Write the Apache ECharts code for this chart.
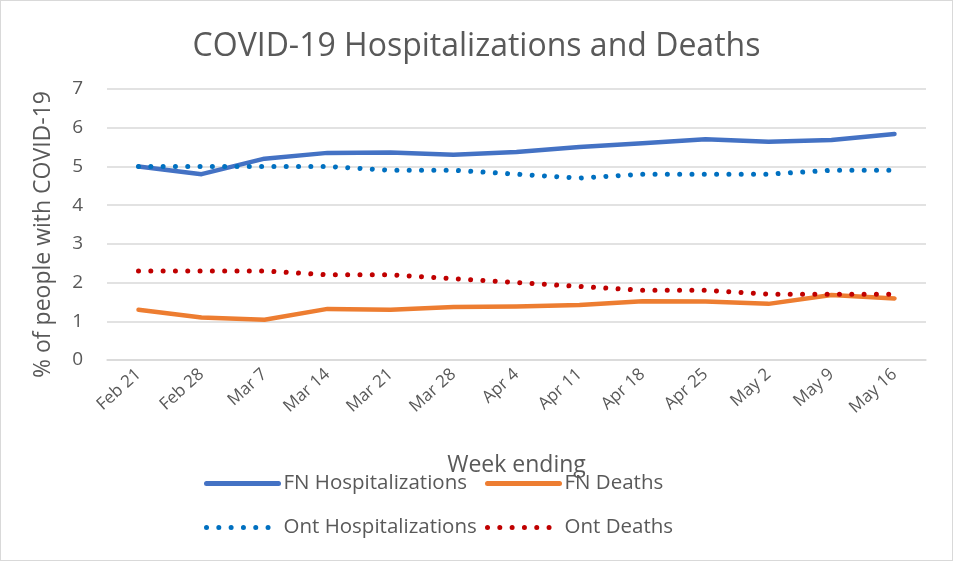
<!DOCTYPE html>
<html>
<head>
<meta charset="utf-8">
<script src="https://cdn.jsdelivr.net/npm/echarts@6/dist/echarts.min.js"></script>
<style>
html, body { margin: 0; padding: 0; background: #fff; }
#chart { box-sizing: border-box; width: 953px; height: 561px; border: 1px solid #d9d9d9; }
</style>
</head>
<body>
<div id="chart"></div>
<script>
var weeks = ['Feb 21', 'Feb 28', 'Mar 7', 'Mar 14', 'Mar 21', 'Mar 28', 'Apr 4', 'Apr 11', 'Apr 18', 'Apr 25', 'May 2', 'May 9', 'May 16'];
var fnHosp = [5.0, 4.8, 5.2, 5.35, 5.36, 5.3, 5.37, 5.5, 5.6, 5.7, 5.64, 5.68, 5.84];
var fnDeaths = [1.3, 1.1, 1.04, 1.32, 1.3, 1.37, 1.38, 1.42, 1.52, 1.51, 1.45, 1.68, 1.59];
var ontHosp = [5.0, 5.0, 5.0, 5.0, 4.9, 4.9, 4.8, 4.7, 4.8, 4.8, 4.8, 4.9, 4.9];
var ontDeaths = [2.3, 2.3, 2.3, 2.2, 2.2, 2.1, 2.0, 1.9, 1.8, 1.8, 1.7, 1.7, 1.7];
var yTicks = [0, 1, 2, 3, 4, 5, 6, 7];

var font = '"Open Sans", "Noto Sans", sans-serif';
var grey = '#595959';

function solid(name, data, color) {
    return {
        name: name, type: 'line', data: data, symbol: 'none',
        lineStyle: { color: color, width: 4.5, cap: 'round', join: 'round' },
        itemStyle: { color: color }
    };
}
function dotted(name, data, color) {
    return {
        name: name, type: 'line', data: data, symbol: 'none',
        lineStyle: { color: color, width: 5, type: [0.01, 12.3], cap: 'round' },
        itemStyle: { color: color }
    };
}
function legendAt(name, left, top, dots) {
    return {
        data: [name], left: left, top: top, itemWidth: 72, itemHeight: 14, itemGap: 5,
        itemStyle: { opacity: 0 },
        lineStyle: dots ? { width: 5, type: [0.01, 12.3], cap: 'round' } : { width: 5, cap: 'round' },
        textStyle: { fontFamily: font, fontSize: 20.5, color: grey }
    };
}

var myChart = echarts.init(document.getElementById('chart'));
var option = {
    animation: false,
    title: {
        text: 'COVID-19 Hospitalizations and Deaths',
        left: 'center', top: 25,
        textStyle: { fontFamily: font, fontSize: 32, fontWeight: 'normal', color: grey }
    },
    legend: [
        legendAt('FN Hospitalizations', 198, 467, false),
        legendAt('FN Deaths', 479, 467, false),
        legendAt('Ont Hospitalizations', 198, 511, true),
        legendAt('Ont Deaths', 479, 511, true)
    ],
    grid: { left: 106, right: 26, top: 88, bottom: 200 },
    xAxis: {
        type: 'category', data: weeks, boundaryGap: true,
        name: 'Week ending', nameLocation: 'middle', nameGap: 94,
        nameTextStyle: { fontFamily: font, fontSize: 23, color: grey },
        axisLine: { lineStyle: { color: '#d9d9d9', width: 1.5 } },
        axisTick: { show: false },
        axisLabel: { rotate: 42, margin: 12, interval: 0, fontFamily: font, fontSize: 17, color: grey }
    },
    yAxis: {
        type: 'value', min: yTicks[0], max: yTicks[yTicks.length - 1], interval: 1,
        name: '% of people with COVID-19', nameLocation: 'middle', nameGap: 52,
        nameTextStyle: { fontFamily: font, fontSize: 23, color: grey, padding: [0, 20, 0, 0] },
        axisLine: { show: false }, axisTick: { show: false },
        axisLabel: { margin: 24, fontFamily: font, fontSize: 19, color: grey },
        splitLine: { lineStyle: { color: '#d9d9d9', width: 1.5 } }
    },
    series: [
        solid('FN Hospitalizations', fnHosp, '#4472C4'),
        solid('FN Deaths', fnDeaths, '#ED7D31'),
        dotted('Ont Hospitalizations', ontHosp, '#0070C0'),
        dotted('Ont Deaths', ontDeaths, '#C00000')
    ]
};
myChart.setOption(option);
</script>
</body>
</html>
